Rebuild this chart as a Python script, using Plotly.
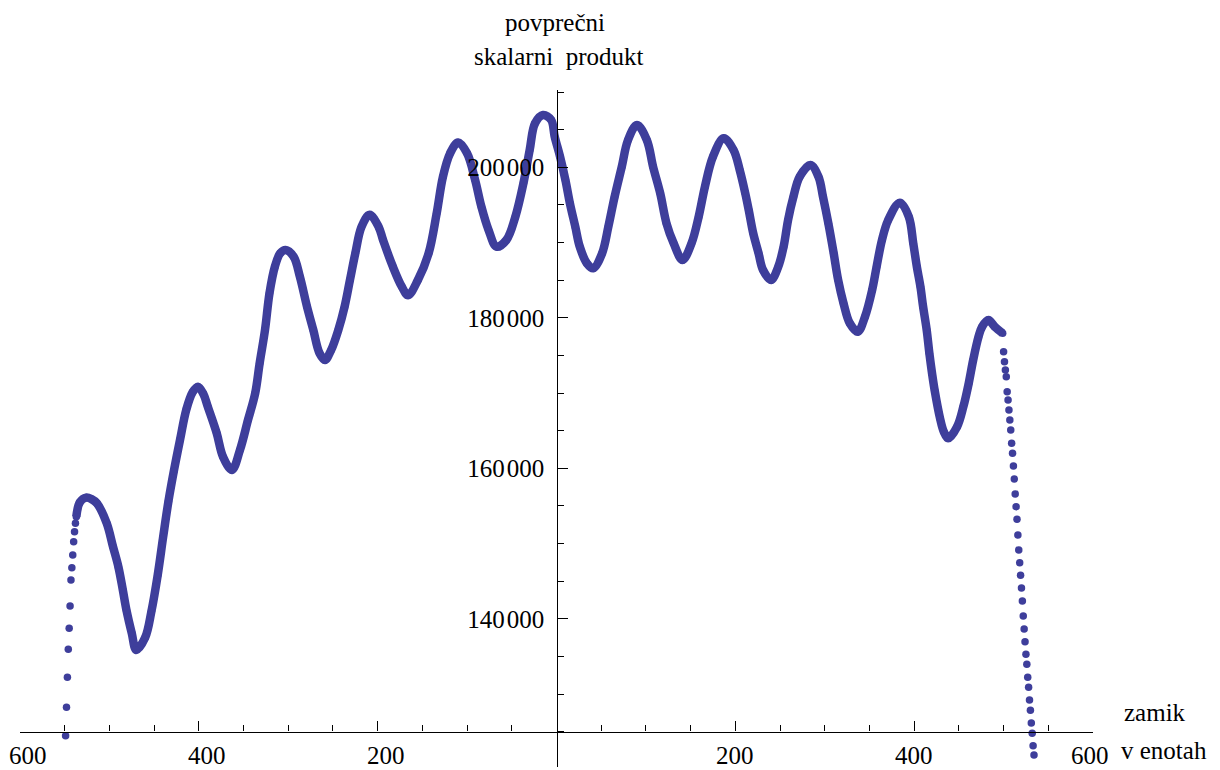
import plotly.graph_objects as go

# ---- data (lag vs. average scalar product) ----
left_tail_lag = [-549, -548, -547, -546, -545, -544, -543, -542, -541, -540, -539, -538]
left_tail_val = [124460, 128230, 132220, 135940, 138730, 141700, 145150, 146790,
                 148480, 150240, 151570, 152690]

main_lag = [-537, -533, -526, -520, -514, -503, -496, -490, -485, -481, -475, -470,
            -460, -453, -446, -440, -434, -428, -421, -414, -407, -401,
            -395, -390, -380, -373, -363, -354, -345, -337, -332, -326, -321, -315,
            -309, -303, -294, -287, -279, -272, -265, -259, -252, -244, -237, -231,
            -225, -218, -209, -199, -194, -183, -173, -166, -155, -143, -134, -127,
            -119, -110, -100, -91, -84, -76, -67, -56, -46, -37, -30, -24,
            -15, -6, -2, 4, 10, 15, 21, 26, 34, 41, 51, 58,
            65, 73, 80, 90, 101, 108, 116, 123, 131, 141, 151, 159,
            166, 175, 187, 198, 205, 211, 215, 220, 226, 231, 240, 248,
            254, 259, 265, 272, 284, 293, 298, 304, 310, 315, 321, 328,
            337, 345, 353, 358, 364, 371, 384, 394, 399, 403, 407, 410,
            414, 417, 420, 423, 429, 433, 438, 448, 455, 461, 466, 472, 476,
            483, 490, 499]
main_val = [153570, 155500, 156100, 155900, 155350, 152690, 149580, 146920, 143820, 141170, 138070, 135850,
            137500, 141000, 145800, 150800, 155600, 159600, 163800, 167800, 170100, 170840,
            169900, 168180, 164650, 161540, 159770, 162430, 166420, 169960, 173950, 178380, 183250, 186790,
            188570, 189000, 188120, 185460, 181470, 178380, 175280, 174400, 175720, 178380, 181470, 185020,
            188570, 192110, 193700, 192110, 190340, 186790, 184130, 183000, 185020, 188570, 193890, 198750,
            201860, 203300, 201860, 198310, 194760, 191670, 189450, 190340, 193440, 197870, 202300, 205850,
            206950, 206300, 204070, 201410, 198310, 195220, 192110, 189450, 187240, 186580, 188570, 192110,
            196090, 200080, 203630, 205620, 203630, 200080, 196540, 192560, 189900, 187680, 189900, 193440,
            197420, 201410, 203850, 202300, 199600, 196600, 194300, 191230, 188570, 186350, 185020, 186790,
            189450, 193000, 196090, 198750, 200300, 198750, 196090, 192560, 188570, 185020, 181930, 179270,
            178150, 180150, 183690, 186790, 190340, 193000, 195300, 193440, 189900, 186790, 184130, 181470,
            178380, 175280, 172620, 170300, 166600, 164900, 163980, 165530, 168180, 171290, 174390, 177490, 178820,
            179710, 178820, 177940]

right_tail_lag = [500, 501, 502, 503, 504, 505, 506, 507, 508, 509, 510, 511,
                  512, 513, 514, 515, 516, 517, 518, 519, 520, 521, 522, 523,
                  524, 525, 526, 527, 528, 529, 530, 531, 532, 533, 534]
right_tail_val = [175490, 174160, 173060, 172170, 170180, 169070, 167750, 166420, 165090, 163320, 161990, 160300,
                  158580, 156580, 154890, 153220, 151130, 149140, 147450, 145780, 144090, 142360, 140370, 138640,
                  136950, 135280, 133950, 132220, 130890, 129200, 127840, 126150, 124780, 123130, 121900]

x_tick_vals = [-600, -400, -200, 200, 400, 600]
x_tick_text = ["600", "400", "200", "200", "400", "600"]
x_minor_vals = [-550, -500, -450, -350, -300, -250, -150, -100, -50,
                50, 100, 150, 250, 300, 350, 450, 500, 550]
y_tick_vals = [140000, 160000, 180000, 200000]
y_tick_text = ["140\u200a000", "160\u200a000", "180\u200a000", "200\u200a000"]
y_minor_vals = [125000, 130000, 135000, 145000, 150000, 155000, 165000, 170000,
                175000, 185000, 190000, 195000, 205000, 210000]

# ---- styling ----
COL = "rgb(62,62,155)"
FONT = "Liberation Serif"
X_RANGE = [-600, 600]
Y_RANGE = [120300, 210273]
X_AXIS_AT = 125000
Y_AXIS_AT = 0
X_LABEL_SHIFT = [8, 8, 8, 0, 0, -3]   # pixel nudges of the x tick labels

fig = go.Figure()
fig.add_trace(go.Scatter(
    x=main_lag, y=main_val, mode="lines+markers",
    line=dict(color=COL, width=8.5, shape="spline", smoothing=1.0),
    marker=dict(color=COL, size=7.5, line=dict(width=0)),
    hoverinfo="skip"))
fig.add_trace(go.Scatter(
    x=left_tail_lag + right_tail_lag, y=left_tail_val + right_tail_val,
    mode="markers", marker=dict(color=COL, size=7.5, line=dict(width=0)),
    hoverinfo="skip"))

xpos = (X_AXIS_AT - Y_RANGE[0]) / (Y_RANGE[1] - Y_RANGE[0])
ypos = (Y_AXIS_AT - X_RANGE[0]) / (X_RANGE[1] - X_RANGE[0])

axis_common = dict(showgrid=False, zeroline=False, showline=True, linecolor="black",
                   linewidth=1.3, ticks="inside", ticklen=10, tickwidth=1.2,
                   tickcolor="black", tickmode="array", automargin=False,
                   tickfont=dict(family=FONT, size=25, color="black"))

fig.update_layout(
    width=1220, height=770,
    margin=dict(l=20, r=127, t=90, b=3, autoexpand=False),
    paper_bgcolor="white", plot_bgcolor="white",
    showlegend=False,
    xaxis=dict(range=X_RANGE, anchor="free", position=xpos,
               tickvals=x_tick_vals, showticklabels=False,
               minor=dict(tickmode="array", tickvals=x_minor_vals, ticklen=6.5,
                          ticks="inside", tickcolor="black", tickwidth=1.0),
               **axis_common),
    yaxis=dict(range=Y_RANGE, anchor="free", position=ypos,
               tickvals=y_tick_vals, ticktext=y_tick_text,
               ticklabelstandoff=7,
               minor=dict(tickmode="array", tickvals=y_minor_vals, ticklen=6.5,
                          ticks="inside", tickcolor="black", tickwidth=1.0),
               **axis_common),
)

def px_to_paper(px, py):
    return (px - 20) / (1220 - 20 - 127), (770 - 3 - py) / (770 - 90 - 3)

# x tick labels (absolute values, placed on the x scale)
_, label_y = px_to_paper(0, 755)
for v, t, s in zip(x_tick_vals, x_tick_text, X_LABEL_SHIFT):
    fig.add_annotation(x=v, y=label_y, xref="x", yref="paper", text=t, xshift=s,
                       showarrow=False, xanchor="center", yanchor="middle",
                       font=dict(family=FONT, size=25, color="black"))

labels = [("povprečni", 555, 22), ("skalarni\u00a0 produkt", 558, 56),
          ("zamik", 1155, 712), ("v enotah", 1164, 750)]
for txt, px, py in labels:
    xp, yp = px_to_paper(px, py)
    fig.add_annotation(x=xp, y=yp, xref="paper", yref="paper", text=txt,
                       showarrow=False, xanchor="center", yanchor="middle",
                       font=dict(family=FONT, size=25, color="black"))

fig.write_html("out.html")
